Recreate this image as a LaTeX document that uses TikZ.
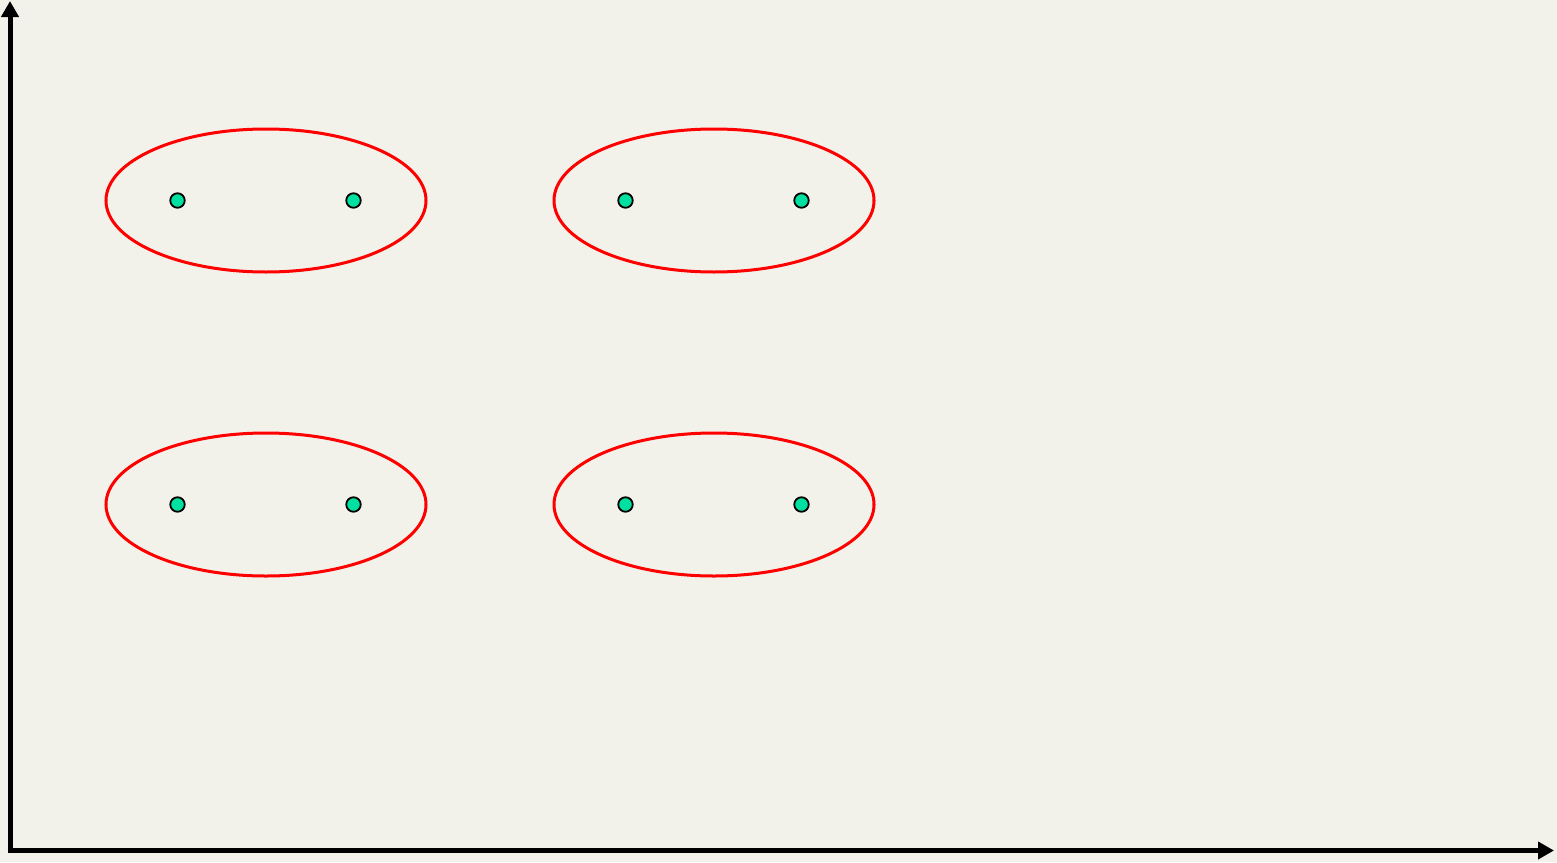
\documentclass[tikz,border=0pt]{standalone}
\usetikzlibrary{arrows.meta}
\definecolor{bg}{HTML}{F3F2EA}
\definecolor{dotc}{HTML}{00E0A0}
\begin{document}
\begin{tikzpicture}[x=1pt,y=-1pt,
  axis/.style={line width=5pt,-{Triangle[length=16pt,width=17pt]}},
  pt/.style={circle,draw=black,fill=dotc,line width=1.8pt,minimum size=14.5pt,inner sep=0pt}]
\fill[bg] (0,0) rectangle (1557,862);
\useasboundingbox (0,0) rectangle (1557,862);
\coordinate (ytop) at (10,1);
\coordinate (xend) at (1554,850.5);
\draw[axis] (10,853) -- (ytop);
\draw[axis] (7.5,850.5) -- (xend);
\foreach \cx/\cy/\n in {266/200.5/a,714/200.5/b,266/504.5/c,714/504.5/d}{
  \draw[red,line width=3pt] (\cx,\cy) ellipse [x radius=160, y radius=71.5];
  \node[pt] (\n1) at (\cx-88.5,\cy) {};
  \node[pt] (\n2) at (\cx+87.5,\cy) {};
}
\end{tikzpicture}
\end{document}
